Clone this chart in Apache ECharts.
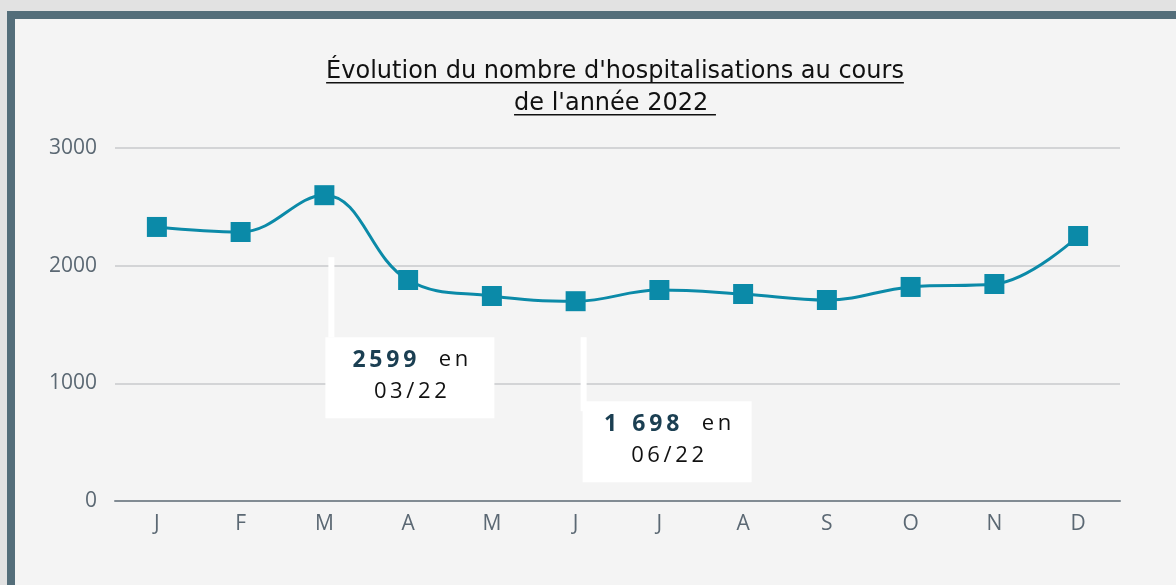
<!DOCTYPE html>
<html>
<head>
<meta charset="utf-8">
<script src="https://cdn.jsdelivr.net/npm/echarts@6/dist/echarts.min.js"></script>
<style>
  html, body { margin: 0; padding: 0; width: 1176px; height: 585px; background: #e2e2e2; overflow: hidden; }
  .panel { position: absolute; left: 7px; top: 11px; width: 1200px; height: 600px; background: #f4f4f4; border-left: 8px solid #546e7a; border-top: 8px solid #546e7a; }
  #chart { position: absolute; left: 0; top: 0; width: 1176px; height: 585px; }
</style>
</head>
<body>
<div class="panel"></div>
<div id="chart"></div>
<script>
const months = ['J', 'F', 'M', 'A', 'M', 'J', 'J', 'A', 'S', 'O', 'N', 'D']
const hospitalisations = [2329, 2286, 2599, 1878, 1742, 1698, 1793, 1759, 1708, 1819, 1844, 2252]
const yTicks = [0, 1000, 2000, 3000]
const titleLines = ["Évolution du nombre d'hospitalisations au cours", "de l'année 2022 "]

// annotations : index du mois, nombre affiché, date
const T = '\u2009'
const notes = [
  { index: 2, num: ['2', '5', '9', '9'].join(T), date: ['0', '3', '/', '2', '2'].join(T) },
  { index: 5, num: '1' + T + T + T + T + ['6', '9', '8'].join(T), date: ['0', '6', '/', '2', '2'].join(T) }
]

const titleFont = '24px "DejaVu Sans"'
const axisFont = { color: '#5b6873', fontSize: 21, fontFamily: 'Open Sans', fontWeight: 'normal' }
const chart = echarts.init(document.getElementById('chart'))

const measure = (text, font) => {
  const ctx = document.createElement('canvas').getContext('2d')
  ctx.font = font
  return ctx.measureText(text).width
}

const option = {
  animation: false,
  grid: { left: 115, right: 56, top: 148, bottom: 84 },
  xAxis: {
    type: 'category',
    data: months,
    boundaryGap: true,
    axisTick: { show: false },
    axisLine: { lineStyle: { color: '#818b93', width: 2 } },
    axisLabel: { ...axisFont, margin: 13 }
  },
  yAxis: {
    type: 'value',
    min: yTicks[0],
    max: yTicks[yTicks.length - 1],
    interval: 1000,
    axisLabel: { ...axisFont, margin: 18, formatter: v => String(v) },
    splitLine: { lineStyle: { color: '#c8cacd', width: 1.5 } }
  },
  series: [
    {
      type: 'line',
      data: hospitalisations,
      smooth: 0.4,
      symbol: 'rect',
      symbolSize: 20,
      itemStyle: { color: '#0b8aa8' },
      lineStyle: { color: '#0b8aa8', width: 3 }
    }
  ]
}

chart.setOption(option)

const graphics = []
titleLines.forEach((line, i) => {
  const y = 72 + i * 32
  const w = measure(line, titleFont)
  graphics.push({
    type: 'text', x: 615, y: y, z: 10,
    style: { text: line, font: titleFont, fill: '#111', align: 'center', verticalAlign: 'middle' }
  })
  graphics.push({
    type: 'rect', z: 10,
    shape: { x: 615 - w / 2, y: y + 10, width: w, height: 1.5 },
    style: { fill: '#111' }
  })
})

// boîtes d'annotation ancrées sur les points
const offsets = [
  { lineTop: 62, boxTop: 142, lineBottom: 142 },
  { lineTop: 36, boxTop: 100, lineBottom: 110 }
]
notes.forEach((n, i) => {
  const p = chart.convertToPixel({ seriesIndex: 0 }, [n.index, hospitalisations[n.index]])
  const o = offsets[i]
  const boxLeft = p[0] + 1 + (i === 1 ? 6 : 0)
  graphics.push({
    type: 'rect', z: 20,
    shape: { x: p[0] + 4 + (i === 1 ? 1 : 0), y: p[1] + o.lineTop, width: 6, height: o.lineBottom - o.lineTop },
    style: { fill: '#ffffff' }
  })
  graphics.push({
    type: 'rect', z: 20,
    shape: { x: boxLeft, y: p[1] + o.boxTop, width: 169, height: 81 },
    style: { fill: '#ffffff' }
  })
  graphics.push({
    type: 'text', z: 21,
    x: boxLeft + 85, y: p[1] + o.boxTop + 23,
    style: {
      text: '{n|' + n.num + '}{e|' + T + T + T + '  e' + T + 'n}',
      align: 'center', verticalAlign: 'middle',
      rich: {
        n: { font: 'bold 23px "Open Sans"', fill: '#1b3f52' },
        e: { font: '22px "Open Sans"', fill: '#111' }
      }
    }
  })
  graphics.push({
    type: 'text', z: 21,
    x: boxLeft + 85, y: p[1] + o.boxTop + 55,
    style: { text: n.date, font: '22px "Open Sans"', fill: '#111', align: 'center', verticalAlign: 'middle' }
  })
})

chart.setOption({ graphic: graphics })
</script>
</body>
</html>
